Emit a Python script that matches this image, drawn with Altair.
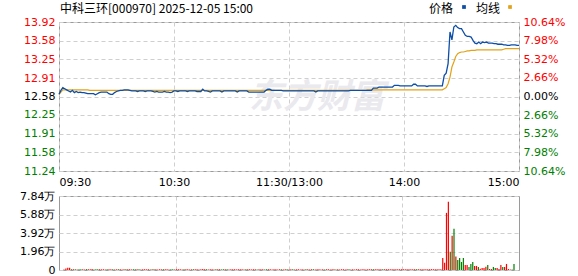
import altair as alt
import pandas as pd

# ---------------- data ----------------
prev_close = 12.58
price_ticks = [11.24, 11.58, 11.91, 12.25, 12.58, 12.91, 13.25, 13.58, 13.92]
pct_ticks = [-10.64, -7.98, -5.32, -2.66, 0.0, 2.66, 5.32, 7.98, 10.64]
vol_ticks = [0, 1.96, 3.92, 5.88, 7.84]
time_pos = [0, 60, 120, 180, 240]
time_labels = ["09:30", "10:30", "11:30/13:00", "14:00", "15:00"]

price = [
    12.62, 12.69, 12.74, 12.72, 12.70, 12.68, 12.66, 12.69, 12.65, 12.67,
    12.65, 12.66, 12.65, 12.65, 12.64, 12.63, 12.63, 12.63, 12.63, 12.61,
    12.63, 12.65, 12.66, 12.66, 12.66, 12.66, 12.63, 12.62, 12.62, 12.65,
    12.67, 12.68, 12.69, 12.69, 12.70, 12.70, 12.70, 12.69, 12.68, 12.68,
    12.68, 12.67, 12.68, 12.68, 12.68, 12.67, 12.68, 12.68, 12.68, 12.67,
    12.66, 12.67, 12.66, 12.66, 12.66, 12.67, 12.66, 12.66, 12.65, 12.66,
    12.68, 12.68, 12.67, 12.68, 12.68, 12.68, 12.68, 12.67, 12.68, 12.68,
    12.68, 12.68, 12.67, 12.67, 12.67, 12.71, 12.68, 12.68, 12.67, 12.66,
    12.68, 12.68, 12.68, 12.68, 12.68, 12.66, 12.68, 12.68, 12.68, 12.68,
    12.68, 12.68, 12.68, 12.66, 12.68, 12.68, 12.68, 12.68, 12.68, 12.66,
    12.66, 12.66, 12.66, 12.66, 12.66, 12.66, 12.66, 12.66, 12.69, 12.71,
    12.71, 12.69, 12.69, 12.69, 12.69, 12.69, 12.69, 12.68, 12.68, 12.68,
    12.68, 12.68, 12.68, 12.68, 12.68, 12.68, 12.68, 12.68, 12.68, 12.68,
    12.68, 12.68, 12.68, 12.68, 12.66, 12.68, 12.68, 12.68, 12.68, 12.68,
    12.68, 12.68, 12.68, 12.68, 12.68, 12.68, 12.68, 12.68, 12.68, 12.68,
    12.68, 12.68, 12.69, 12.69, 12.69, 12.69, 12.69, 12.69, 12.69, 12.69,
    12.69, 12.69, 12.69, 12.69, 12.73, 12.73, 12.73, 12.75, 12.75, 12.75,
    12.75, 12.75, 12.75, 12.75, 12.75, 12.78, 12.78, 12.78, 12.77, 12.77,
    12.77, 12.77, 12.77, 12.77, 12.77, 12.80, 12.80, 12.77, 12.77, 12.77,
    12.77, 12.77, 12.76, 12.77, 12.77, 12.77, 12.77, 12.77, 12.77, 12.77,
    12.77, 12.96, 13.00, 13.17, 13.74, 13.60, 13.83, 13.86, 13.82, 13.80,
    13.80, 13.74, 13.68, 13.66, 13.66, 13.65, 13.59, 13.54, 13.53, 13.56,
    13.53, 13.56, 13.55, 13.56, 13.54, 13.54, 13.54, 13.53, 13.53, 13.52,
    13.52, 13.52, 13.51, 13.51, 13.50, 13.50, 13.51, 13.51, 13.51, 13.50,
    13.50,
]

avg = (
    [12.62, 12.66]
    + [12.70] * 14
    + [12.69] * 145
    + [12.70] * 40
    + [12.72, 12.74, 12.81, 12.93, 13.11, 13.20, 13.30, 13.35, 13.37,
       13.38, 13.38, 13.39, 13.40, 13.40, 13.41, 13.41, 13.41]
    + [13.42] * 14
    + [13.43]
    + [13.44] * 8
)

vol = [
    0.05, 0.17, 0.24, 0.24, 0.08, 0.07, 0.09, 0.06, 0.08, 0.07,
    0.08, 0.06, 0.09, 0.07, 0.08, 0.10, 0.06, 0.08, 0.07, 0.09,
    0.07, 0.08, 0.06, 0.08, 0.09, 0.07, 0.08, 0.06, 0.07, 0.08,
    0.09, 0.06, 0.08, 0.07, 0.08, 0.07, 0.06, 0.08, 0.09, 0.07,
    0.08, 0.06, 0.07, 0.08, 0.07, 0.09, 0.06, 0.08, 0.07, 0.08,
    0.06, 0.08, 0.07, 0.09, 0.07, 0.08, 0.06, 0.08, 0.07, 0.06,
    0.08, 0.07, 0.09, 0.06, 0.08, 0.07, 0.08, 0.06, 0.07, 0.08,
    0.07, 0.08, 0.06, 0.08, 0.10, 0.07, 0.08, 0.06, 0.07, 0.08,
    0.06, 0.07, 0.08, 0.07, 0.06, 0.08, 0.07, 0.08, 0.06, 0.07,
    0.08, 0.07, 0.06, 0.08, 0.07, 0.08, 0.06, 0.07, 0.08, 0.07,
    0.06, 0.08, 0.07, 0.06, 0.08, 0.07, 0.09, 0.06, 0.08, 0.07,
    0.07, 0.06, 0.08, 0.07, 0.06, 0.08, 0.07, 0.06, 0.08, 0.07,
    0.06, 0.07, 0.08, 0.06, 0.07, 0.08, 0.06, 0.07, 0.06, 0.08,
    0.07, 0.06, 0.08, 0.07, 0.06, 0.07, 0.08, 0.06, 0.07, 0.06,
    0.08, 0.07, 0.06, 0.07, 0.08, 0.06, 0.07, 0.06, 0.08, 0.07,
    0.06, 0.07, 0.08, 0.06, 0.07, 0.06, 0.08, 0.07, 0.06, 0.07,
    0.08, 0.06, 0.07, 0.09, 0.08, 0.07, 0.08, 0.09, 0.07, 0.08,
    0.09, 0.07, 0.08, 0.07, 0.09, 0.08, 0.07, 0.08, 0.09, 0.07,
    0.08, 0.07, 0.09, 0.08, 0.07, 0.08, 0.07, 0.09, 0.08, 0.07,
    0.08, 0.07, 0.09, 0.08, 0.07, 0.08, 0.09, 0.07, 0.08, 0.07,
    0.08, 0.09,
    1.28, 0.78, 6.05, 7.23, 1.93, 3.63, 4.36, 1.42, 1.06, 1.28,
    0.85, 1.28, 0.53, 0.53, 0.32, 0.64, 0.85, 0.43, 0.43, 0.32,
    0.14, 0.20, 0.20, 0.35, 0.53, 0.10, 0.10, 0.32, 0.20, 0.20,
    0.10, 0.53, 0.32, 0.32, 0.64, 0.10, 0.05, 0.05, 0.64,
]

vol_colors = (
    "rrrrgrgrgg" "rrgrrrgggr" "rrrgrrgrrg" "rrrgrrrggr" "grrrrrgrgr"
    "rrrgrrrggr" "rrrrgrrrrg" "rrrrrrgrrr" "rgrrggrgrr" "rrrrrrrgrr"
    "rrrgrrrggr" "rrrrrrgrrg" "rrgrrrrrrg" "rrrgrrrrrg" "rrrrrgrrrr"
    "rrgrrrrrrr" "rrrrrgrrrr" "grrrrrrrrr" "rrrrrrrrgr" "rrrrrrrrrr"
    "rr"
    "rrrrgrgrgggg" "rrgggrrgrrrr" "grrggrrrgrrrrgg"
)

minutes = list(range(len(price)))
df = pd.DataFrame({"m": minutes, "price": price, "avg": avg,
                   "vol": vol, "c": list(vol_colors)})

FONT = "DejaVu Sans"
CJK = "Noto Sans CJK SC"
RED, GREEN, BLACK = "#ff0000", "#008000", "#000000"
BLUE, GOLD = "#0d4ea6", "#e2a21a"
W = 460

label_expr = " : ".join(
    f"datum.value == {p} ? '{t}'" for p, t in zip(time_pos, time_labels)
) + " : ''"

x_price = alt.X("m:Q", scale=alt.Scale(domain=[0, 240], nice=False, zero=False),
                axis=alt.Axis(values=time_pos, labelExpr=label_expr, labelFlush=True,
                              grid=True, gridDash=[4, 3], gridColor="#cfcfcf",
                              ticks=False, domain=False, labelPadding=5,
                              labelColor=BLACK, title=None))

price_axis = alt.Axis(
    values=price_ticks, format=".2f", grid=True, gridDash=[4, 3],
    gridColor="#cfcfcf", ticks=False, domain=False, labelPadding=4, title=None,
    labelColor={"condition": [
        {"test": f"datum.value > {prev_close + 0.005}", "value": RED},
        {"test": f"datum.value < {prev_close - 0.005}", "value": GREEN}],
        "value": BLACK},
)
y_scale = alt.Scale(domain=[price_ticks[0], price_ticks[-1]], nice=False, zero=False)

base = alt.Chart(df)
avg_line = base.mark_line(color=GOLD, strokeWidth=1.2).encode(
    x=x_price, y=alt.Y("avg:Q", scale=y_scale, axis=price_axis))
price_line = base.mark_line(color=BLUE, strokeWidth=1.3).encode(
    x=x_price, y=alt.Y("price:Q", scale=y_scale, axis=price_axis))

wm = alt.Chart(pd.DataFrame({"t": ["东方财富"]})).mark_text(
    font=CJK, fontSize=34, fontWeight="bold", fontStyle="italic",
    color="#e9e9ee", align="center", baseline="middle").encode(
    x=alt.value(258), y=alt.value(76), text="t:N")

title_txt = alt.Chart(pd.DataFrame({"t": ["中科三环[000970] 2025-12-05 15:00"]})).mark_text(
    font=CJK, fontSize=12, color=BLACK, align="left", baseline="middle").encode(
    x=alt.value(1), y=alt.value(-13), text="t:N")

leg_df = pd.DataFrame({"t": ["价格", "均线"], "x": [394, 441]})
leg_txt = alt.Chart(leg_df).mark_text(
    font=CJK, fontSize=12, color=BLACK, align="right", baseline="middle").encode(
    x=alt.X("x:Q", scale=None), y=alt.value(-13), text="t:N")
leg_sq = alt.Chart(pd.DataFrame({"x": [405, 451], "c": [BLUE, GOLD]})).mark_square(
    size=14, opacity=1).encode(
    x=alt.X("x:Q", scale=None), y=alt.value(-15), color=alt.Color("c:N", scale=None))

pct_df = pd.DataFrame({"p": pct_ticks})
pct_layer = alt.Chart(pct_df).mark_point(opacity=0).encode(
    y=alt.Y("p:Q", scale=alt.Scale(domain=[pct_ticks[0], pct_ticks[-1]], nice=False),
            axis=alt.Axis(orient="right", values=pct_ticks, grid=False, ticks=False,
                          domain=False, labelPadding=4, title=None,
                          labelExpr="format(abs(datum.value), '.2f') + '%'",
                          labelColor={"condition": [
                              {"test": "datum.value > 0.001", "value": RED},
                              {"test": "datum.value < -0.001", "value": GREEN}],
                              "value": BLACK})))

price_panel = alt.layer(
    alt.layer(wm, avg_line, price_line, title_txt, leg_txt, leg_sq),
    pct_layer,
).resolve_scale(y="independent").properties(width=W, height=149)

vol_panel = alt.Chart(df).mark_bar(size=1.2).encode(
    x=alt.X("m:Q", scale=alt.Scale(domain=[0, 240], nice=False, zero=False),
            axis=alt.Axis(values=[60, 120, 180], labels=False, ticks=False, domain=False,
                          grid=True, gridDash=[4, 3], gridColor="#cfcfcf", title=None)),
    y=alt.Y("vol:Q", scale=alt.Scale(domain=[0, vol_ticks[-1]], nice=False),
            axis=alt.Axis(values=vol_ticks, grid=True, gridDash=[4, 3], gridColor="#cfcfcf",
                          ticks=False, domain=False, labelPadding=4, title=None,
                          labelColor=BLACK,
                          labelExpr="datum.value == 0 ? '0' : format(datum.value, '.2f') + '万'")),
    color=alt.Color("c:N", scale=alt.Scale(domain=["r", "g"], range=[RED, GREEN]), legend=None),
).properties(width=W, height=74)

chart = alt.vconcat(price_panel, vol_panel, spacing=1).properties(
    padding={"left": 19, "top": 2, "right": 5, "bottom": 0},
    background="white",
).configure_view(stroke="#9a9a9a", strokeWidth=1).configure_axis(
    labelFont=FONT, labelFontSize=11,
)

chart.save("out.html", embed_options={"renderer": "svg", "actions": False})
